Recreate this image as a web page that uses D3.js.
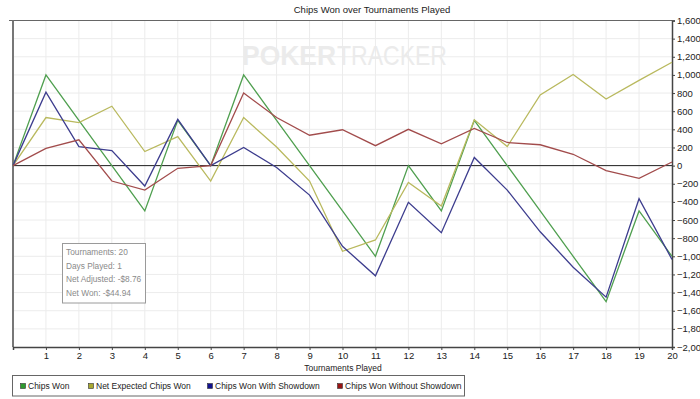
<!DOCTYPE html>
<html>
<head>
<meta charset="utf-8">
<script src="https://cdn.jsdelivr.net/npm/d3@7"></script>
<style>
  body { margin: 0; background: #fff; }
  text { font-family: "Liberation Sans", Arial, sans-serif; }
</style>
</head>
<body>
<svg id="chart" width="700" height="399"></svg>
<script>
var tournaments = d3.range(0, 21);
var chipsWon = [0, 1000, 500, 0, -500, 500, 0, 1000, 500, 0, -500, -1000, 0, -500, 500, 0, -500, -1000, -1500, -500, -1000];
var netExpected = [0, 530, 475, 655, 155, 320, -170, 530, 205, -170, -945, -820, -185, -445, 505, 210, 780, 1005, 735, 940, 1140];
var withShowdown = [0, 810, 210, 165, -225, 510, 0, 200, -20, -325, -890, -1215, -405, -740, 90, -270, -730, -1120, -1450, -365, -1035];
var withoutShowdown = [0, 190, 285, -170, -270, -30, 0, 800, 530, 335, 395, 220, 400, 240, 410, 255, 230, 125, -55, -140, 40];

var seriesNames = ["Chips Won", "Net Expected Chips Won", "Chips Won With Showdown", "Chips Won Without Showdown"];
var lineColors = ["#4f9f4f", "#b9b95e", "#3d3d8e", "#a24c4c"];
var swatchColors = ["#2e9a2e", "#a8a830", "#12128f", "#991414"];
var statLines = ["Tournaments: 20", "Days Played: 1", "Net Adjusted: -$8.76", "Net Won: -$44.94"];

var series = [chipsWon, netExpected, withShowdown, withoutShowdown];

var svg = d3.select("#chart");

var plotLeft = 13, plotRight = 672, plotTop = 20.5, plotBottom = 347;

var x = d3.scaleLinear().domain([0, 20]).range([plotLeft, plotRight]);
var y = d3.scaleLinear().domain([-2000, 1600]).range([plotBottom, plotTop]);

// grid
var grid = svg.append("g");
grid.selectAll("line.v").data(d3.range(1, 20)).enter().append("line")
  .attr("x1", function (d){ return x(d); }).attr("x2", function (d){ return x(d); })
  .attr("y1", plotTop).attr("y2", plotBottom)
  .style("stroke", "#ececec");
grid.selectAll("line.h").data(d3.range(-1800, 1600, 200)).enter().append("line")
  .attr("x1", plotLeft).attr("x2", plotRight)
  .attr("y1", function (d){ return y(d); }).attr("y2", function (d){ return y(d); })
  .style("stroke", "#ececec");

// watermark
var wm = svg.append("g").style("fill", "#ebebeb").style("font-size", "28px");
wm.append("text")
  .attr("x", 242).attr("y", 65)
  .attr("textLength", 94).attr("lengthAdjust", "spacingAndGlyphs")
  .style("font-weight", "bold")
  .text("POKER");
wm.append("text")
  .attr("x", 337).attr("y", 65)
  .attr("textLength", 110).attr("lengthAdjust", "spacingAndGlyphs")
  .text("TRACKER");

// frame
svg.append("line").attr("x1", 9).attr("x2", plotRight).attr("y1", plotTop).attr("y2", plotTop)
  .style("stroke", "#666");
svg.append("line").attr("x1", plotLeft).attr("x2", plotLeft).attr("y1", plotTop).attr("y2", plotBottom)
  .style("stroke", "#777").style("stroke-width", 2);
svg.append("line").attr("x1", plotLeft).attr("x2", plotRight).attr("y1", y(0)).attr("y2", y(0))
  .style("stroke", "#222");

// axes
var yAxisG = svg.append("g")
  .attr("transform", "translate(" + plotRight + ",0)")
  .call(d3.axisRight(y).tickValues(d3.range(-2000, 1601, 200)).tickSize(3).tickPadding(2).tickFormat(d3.format(",")));
var xAxisG = svg.append("g")
  .attr("transform", "translate(0," + plotBottom + ")")
  .call(d3.axisBottom(x).tickValues(d3.range(1, 21)).tickSize(3).tickPadding(2));

[yAxisG, xAxisG].forEach(function (g){
  g.select(".domain").style("stroke", "#444").style("stroke-width", 1.5);
  g.selectAll(".tick line").style("stroke", "#444");
  g.selectAll("text").style("font-size", "9.5px").style("fill", "#222")
    .style("font-family", "'Liberation Sans', Arial, sans-serif");
});

// lines
var line = d3.line()
  .x(function (d, i){ return x(tournaments[i]); })
  .y(function (d){ return y(d); });

svg.append("g").selectAll("path").data(series).enter().append("path")
  .attr("d", line)
  .style("fill", "none")
  .style("stroke", function (d, i){ return lineColors[i]; })
  .style("stroke-width", 1.3);

// title and axis label
svg.append("text")
  .attr("x", 372).attr("y", 13)
  .attr("text-anchor", "middle")
  .style("font-size", "9.5px").style("fill", "#222")
  .text("Chips Won over Tournaments Played");
svg.append("text")
  .attr("x", 343).attr("y", 371)
  .attr("text-anchor", "middle")
  .style("font-size", "8.5px").style("fill", "#222")
  .text("Tournaments Played");

// stats box
var stats = svg.append("g");
stats.append("rect")
  .attr("x", 62.5).attr("y", 243.5).attr("width", 83).attr("height", 59.5)
  .style("fill", "#fff").style("stroke", "#9a9a9a");
stats.selectAll("text").data(statLines).enter().append("text")
  .attr("x", 66).attr("y", function (d, i){ return 255 + i * 13.5; })
  .style("font-size", "8.3px").style("fill", "#8a8a8a")
  .text(function (d){ return d; });

// legend
var legend = svg.append("g");
legend.append("rect")
  .attr("x", 12.5).attr("y", 375.5).attr("width", 452).attr("height", 20.5)
  .style("fill", "#fff").style("stroke", "#666");
var legendX = [20, 88, 207, 337];
var items = legend.selectAll("g").data(seriesNames).enter().append("g")
  .attr("transform", function (d, i){ return "translate(" + legendX[i] + ",383)"; });
items.append("rect")
  .attr("x", 0.5).attr("y", 0.5).attr("width", 5).attr("height", 5)
  .style("fill", function (d, i){ return swatchColors[i]; })
  .style("stroke", "#333").style("stroke-width", 0.6);
items.append("text")
  .attr("x", 8).attr("y", 6)
  .style("font-size", "8.5px").style("fill", "#222")
  .text(function (d){ return d; });
</script>
</body>
</html>
